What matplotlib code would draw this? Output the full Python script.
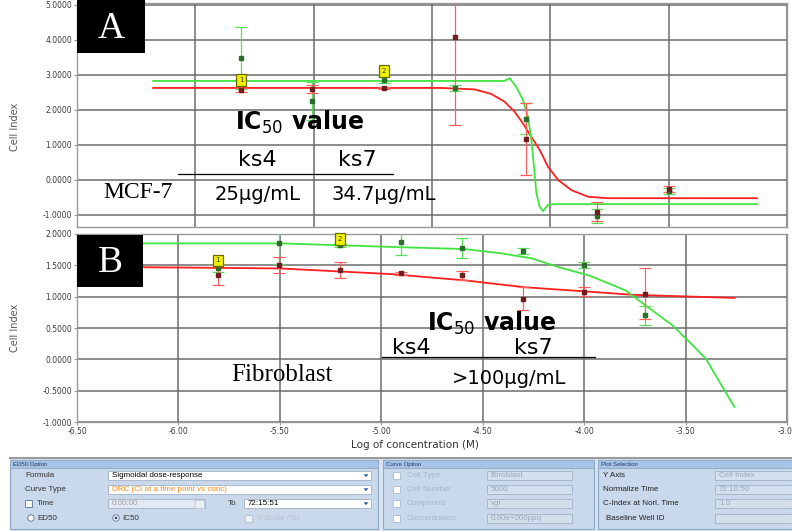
import matplotlib
matplotlib.use("Agg")
import matplotlib.pyplot as plt
from matplotlib.patches import Rectangle, Circle, Polygon

plt.rcParams['mathtext.fontset'] = 'dejavusans'

# ---------------- data ----------------
conc_A = [-5.806, -5.505, -5.204, -4.903, -4.602, -4.301, -4.000]
green_A = [3.49, 2.26, 2.86, 2.63, 1.75, -1.03, -0.32]
green_A_err = [0.88, 0.54, 0.10, 0.08, 0.45, 0.20, 0.08]
red_A = [2.57, 2.60, 2.63, 4.09, 1.17, -0.91, -0.25]
red_A_err = [0.05, 0.12, 0.04, 2.52, 1.03, 0.27, 0.08]

fit_green_A_x = [-6.178, -4.694, -4.672, -4.644, -4.616, -4.594, -4.580, -4.569,
                 -4.559, -4.545, -4.531, -4.510, -4.482, -3.627]
fit_green_A_y = [2.83, 2.83, 2.91, 2.66, 2.29, 1.80, 1.14, 0.37,
                 -0.37, -0.77, -0.89, -0.71, -0.69, -0.69]
fit_red_A_x = [-6.178, -4.962, -4.821, -4.750, -4.694, -4.651, -4.616, -4.581,
               -4.545, -4.510, -4.467, -4.411, -4.340, -4.256, -3.627]
fit_red_A_y = [2.63, 2.63, 2.59, 2.46, 2.24, 1.95, 1.62, 1.24,
               0.86, 0.38, 0.00, -0.29, -0.48, -0.52, -0.52]

conc_B = [-5.806, -5.505, -5.204, -4.903, -4.602, -4.301, -4.000, -3.699]
green_B = [1.46, 1.85, 1.82, 1.87, 1.77, 1.73, 1.50, 0.70]
green_B_err = [0.06, 0.33, 0.03, 0.20, 0.16, 0.05, 0.05, 0.15]
red_B = [1.35, 1.50, 1.42, 1.37, 1.34, 0.97, 1.08, 1.05]
red_B_err = [0.16, 0.13, 0.13, 0.03, 0.07, 0.18, 0.07, 0.40]

fit_green_B_x = [-6.173, -5.495, -4.916, -4.588, -4.406, -4.257, -4.125, -3.977,
                 -3.878, -3.796, -3.697, -3.564, -3.482, -3.400, -3.333, -3.259]
fit_green_B_y = [1.85, 1.85, 1.79, 1.76, 1.69, 1.61, 1.47, 1.34,
                 1.21, 1.10, 0.86, 0.54, 0.28, 0.01, -0.36, -0.76]
fit_red_B_x = [-6.173, -5.495, -4.950, -4.588, -4.291, -3.977, -3.762, -3.259]
fit_red_B_y = [1.47, 1.45, 1.36, 1.26, 1.15, 1.08, 1.03, 0.98]

marker_x = [-5.806, -5.204]
marker_A_y = [2.86, 3.11]
marker_B_y = [1.58, 1.92]
marker_text = ['1', '2']

yticks_A = [-1, 0, 1, 2, 3, 4, 5]
yticks_B = [-1.0, -0.5, 0.0, 0.5, 1.0, 1.5, 2.0]
xticks_A = [-6.5, -6.0, -5.5, -5.0, -4.5, -4.0, -3.5]
xticks_B = [-6.5, -6.0, -5.5, -5.0, -4.5, -4.0, -3.5, -3.0]

GREEN = '#3fe53f'
RED = '#ff1f1f'
GREEN_E = '#5cdc5c'
RED_E = '#ff6060'

W, H = 792, 531
fig = plt.figure(figsize=(W / 100, H / 100), dpi=100)


def px_axes(left, top, right, bottom):
    return fig.add_axes([left / W, 1 - bottom / H, (right - left) / W, (bottom - top) / H])


def style(ax, yt, xt, yfmt):
    ax.set_yticks(yt)
    ax.set_yticklabels([yfmt % v for v in yt])
    ax.set_xticks(xt)
    ax.grid(True, color='#6c6c6c', lw=1.1)
    ax.set_axisbelow(True)
    for s in ax.spines.values():
        s.set_color('#9a9a9a')
        s.set_linewidth(1.0)
    ax.tick_params(labelsize=5.5, labelcolor='#3a3a3a', length=2, color='#999999', pad=1.5)


def draw_panel(ax, x, g, ge, r, re, fgx, fgy, frx, fry, my):
    ax.plot(frx, fry, color=RED, lw=1.3, zorder=3)
    ax.plot(fgx, fgy, color=GREEN, lw=1.3, zorder=3)
    ax.errorbar(x, g, yerr=ge, fmt='s', ms=2.2, mfc='#2a6e2a', mec='#2a6e2a',
                ecolor=GREEN_E, elinewidth=0.9, capsize=4, capthick=0.9, zorder=4)
    ax.errorbar(x, r, yerr=re, fmt='s', ms=2.2, mfc='#6e1e1e', mec='#6e1e1e',
                ecolor=RED_E, elinewidth=0.9, capsize=4, capthick=0.9, zorder=4)
    for xx, yy, t in zip(marker_x, my, marker_text):
        ax.text(xx, yy, t, ha='center', va='center', fontsize=5, color='#333300', zorder=6,
                bbox=dict(boxstyle='square,pad=0.4', fc='#f2f200', ec='#6b6b00', lw=0.9))


axA = px_axes(77, 3, 787, 227)
axA.set_xlim(-6.5, -3.5)
axA.set_ylim(-1.343, 5.057)
style(axA, yticks_A, xticks_A, '%.4f')
axA.set_xticklabels([])
axA.tick_params(axis='x', length=0)
draw_panel(axA, conc_A, green_A, green_A_err, red_A, red_A_err,
           fit_green_A_x, fit_green_A_y, fit_red_A_x, fit_red_A_y, marker_A_y)

axB = px_axes(77, 234, 787, 422)
axB.set_xlim(-6.5, -3.0)
axB.set_ylim(-1.0, 2.0)
style(axB, yticks_B, xticks_B, '%.4f')
axB.set_xticklabels(['%.2f' % v for v in xticks_B])
draw_panel(axB, conc_B, green_B, green_B_err, red_B, red_B_err,
           fit_green_B_x, fit_green_B_y, fit_red_B_x, fit_red_B_y, marker_B_y)

# ---------------- overlay (pixel coordinates) ----------------
ov = fig.add_axes([0, 0, 1, 1], zorder=10)
ov.set_xlim(0, W)
ov.set_ylim(H, 0)
ov.axis('off')
ov.patch.set_alpha(0)

SERIF = 'Liberation Serif'
SANS = 'DejaVu Sans'

# axis titles
ov.text(15, 127, 'Cell Index', rotation=90, ha='center', va='center', fontsize=7, color='#555555')
ov.text(15, 328, 'Cell Index', rotation=90, ha='center', va='center', fontsize=7, color='#555555')
ov.text(415, 445, 'Log of concentration (M)', ha='center', va='center', fontsize=7.5, color='#333333')

# panel letters
ov.add_patch(Rectangle((77, 0), 68, 53, fc='black', ec='none'))
ov.text(111, 29, 'A', ha='center', va='center', fontsize=27, color='white', family=SERIF)
ov.add_patch(Rectangle((77, 235), 66, 52, fc='black', ec='none'))
ov.text(110, 263, 'B', ha='center', va='center', fontsize=27, color='white', family=SERIF)

IC50 = r'IC$_{\mathrm{50}}$ value'

# panel A annotations
ov.text(300, 122, IC50, ha='center', va='center', fontsize=17, fontweight='bold', family=SANS)
ov.text(257, 160, 'ks4', ha='center', va='center', fontsize=16, family=SANS)
ov.text(357, 160, 'ks7', ha='center', va='center', fontsize=16, family=SANS)
ov.plot([178, 393], [174, 174], color='black', lw=0.9)
ov.text(138, 193, 'MCF-7', ha='center', va='center', fontsize=17, family=SERIF)
ov.text(258, 194, '25µg/mL', ha='center', va='center', fontsize=14, family=SANS)
ov.text(384, 194, '34.7µg/mL', ha='center', va='center', fontsize=14, family=SANS)

# panel B annotations
ov.text(492, 323, IC50, ha='center', va='center', fontsize=17, fontweight='bold', family=SANS)
ov.text(411, 348, 'ks4', ha='center', va='center', fontsize=16, family=SANS)
ov.text(533, 348, 'ks7', ha='center', va='center', fontsize=16, family=SANS)
ov.plot([382, 595], [357, 357], color='black', lw=0.9)
ov.text(282, 375, 'Fibroblast', ha='center', va='center', fontsize=18, family=SERIF)
ov.text(509, 378, '>100µg/mL', ha='center', va='center', fontsize=14, family=SANS)

# ---------------- GUI strip ----------------
GUI_BG = '#c9d8ea'
HDR = '#a7c3e6'
BORDER = '#8ea8c8'
FS = 5.8
GF = 'Liberation Sans'

ov.plot([10, 792], [458, 458], color='#9a9a9a', lw=1.5)
ov.add_patch(Rectangle((10, 459), 782, 72, fc='#dbe5f1', ec='none'))


def group(x0, x1, title):
    ov.add_patch(Rectangle((x0, 460), x1 - x0, 69, fc=GUI_BG, ec=BORDER, lw=0.8))
    ov.add_patch(Rectangle((x0, 460), x1 - x0, 8, fc=HDR, ec=BORDER, lw=0.6))
    ov.text(x0 + 3, 464.2, title, ha='left', va='center', fontsize=4.3, color='#24385a', family=GF)


def box(x0, x1, yc, text='', fc='white', tc='black', arrow=False, h=9):
    ov.add_patch(Rectangle((x0, yc - h / 2), x1 - x0, h, fc=fc, ec='#a2b2c6', lw=0.6))
    if text:
        ov.text(x0 + 4, yc + 0.3, text, ha='left', va='center', fontsize=FS, color=tc, family=GF)
    if arrow:
        ax0 = x1 - 9
        ov.add_patch(Polygon([[ax0 + 1.5, yc - 1.2], [ax0 + 6.5, yc - 1.2], [ax0 + 4, yc + 1.6]],
                             closed=True, fc='#2c5aa0', ec='none'))


def check(x, yc, fc='white', ec='#6f7f95'):
    ov.add_patch(Rectangle((x, yc - 3.5), 7, 7, fc=fc, ec=ec, lw=0.7))


group(10, 378, 'ED50 Option')
group(383, 594, 'Curve Option')
group(598, 792, 'Plot Selection')

rows = [475.5, 489.5, 503.5, 518]

# ED50 option
ov.text(25, rows[0], 'Formula', ha='left', va='center', fontsize=FS, color='#333333', family=GF)
box(108, 371, rows[0], 'Sigmoidal dose-response', arrow=True)
ov.text(25, rows[1], 'Curve Type', ha='left', va='center', fontsize=FS, color='#333333', family=GF)
box(108, 371, rows[1], 'DRC (CI at a time point vs conc)', tc='#ff8a1c', arrow=True)
check(25, rows[2])
ov.text(37, rows[2], 'Time', ha='left', va='center', fontsize=FS, color='#333333', family=GF)
box(108, 205, rows[2], '0:00:00', fc='#e2e9f2', tc='#a0a0a0')
ov.add_patch(Rectangle((195, rows[2] - 4), 9, 8, fc='#e8eef6', ec='#b8c4d4', lw=0.5))
ov.text(228, rows[2], 'To', ha='left', va='center', fontsize=FS, color='#333333', family=GF)
box(244, 371, rows[2], '72:15:51', arrow=True)
ov.add_patch(Circle((31, rows[3]), 3.2, fc='white', ec='#6f7f95', lw=0.7))
ov.text(37, rows[3], 'ED50', ha='left', va='center', fontsize=FS, color='#333333', family=GF)
ov.add_patch(Circle((116, rows[3]), 3.2, fc='white', ec='#6f7f95', lw=0.7))
ov.add_patch(Circle((116, rows[3]), 1.3, fc='#1d3f7a', ec='none'))
ov.text(122, rows[3], 'IC50', ha='left', va='center', fontsize=FS, color='#333333', family=GF)
check(245, rows[3], fc='#eef2f7', ec='#b8c4d4')
ov.text(257, rows[3], 'Y Scale (%)', ha='left', va='center', fontsize=FS, color='#b8c2d0', family=GF)

# Curve option
curve_labels = ['Cell Type', 'Cell Number', 'Compound', 'Concentration']
curve_values = ['fibroblast', '5000', 'vgl', '0.00e+000ppq']
for yc, lab, val in zip(rows, curve_labels, curve_values):
    check(393, yc, ec='#b2c0d2')
    ov.text(407, yc, lab, ha='left', va='center', fontsize=FS, color='#a9b6c8', family=GF)
    box(487, 572, yc, val, fc='#d3dfed', tc='#9aa8ba')

# Plot selection
plot_labels = ['Y Axis', 'Normalize Time', 'C-Index at Norl. Time', 'Baseline Well ID']
plot_values = ['Cell Index', '72:10:50', '1.0', '']
for i, (yc, lab, val) in enumerate(zip(rows, plot_labels, plot_values)):
    ov.text(603 if i < 3 else 606, yc, lab, ha='left', va='center', fontsize=FS, color='#222222', family=GF)
    box(715, 800, yc, val, fc='#d3dfed', tc='#9aa8ba')

fig.savefig('out.png', dpi=100)
